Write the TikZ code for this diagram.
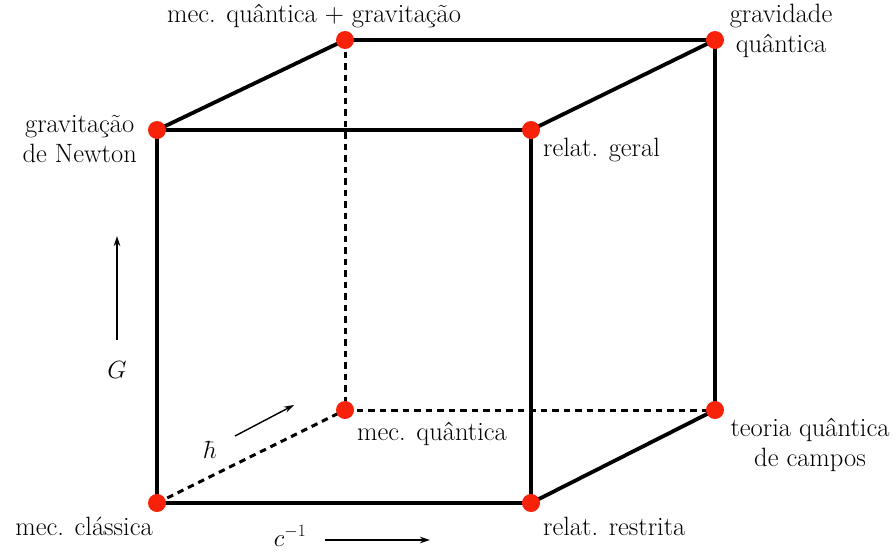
\documentclass[tikz,border=0pt]{standalone}
\usepackage{fontspec}
\usetikzlibrary{arrows.meta}
\begin{document}
\begin{tikzpicture}[x=1pt,y=-1pt,
  edge/.style={line width=3.8pt},
  hidden/.style={line width=3pt,dash pattern=on 6.5pt off 5pt},
  vdot/.style={circle,fill=dotred,inner sep=0pt,minimum size=18pt},
  lbl/.style={inner sep=0pt,font=\fontsize{26.5}{29.5}\selectfont,align=center},
  axis/.style={line width=1.4pt,-{Stealth[length=10pt,width=6.5pt]}}]
\definecolor{dotred}{RGB}{248,34,10}
\useasboundingbox (0,0) rectangle (896,552);
% vertices
\coordinate (fbl) at (157,503);
\coordinate (fbr) at (531,503);
\coordinate (ftl) at (157,130);
\coordinate (ftr) at (531,130);
\coordinate (bbl) at (345,410);
\coordinate (bbr) at (715,410);
\coordinate (btl) at (345,40);
\coordinate (btr) at (715,40);
% hidden edges
\draw[hidden] (btl) -- (bbl);
\draw[hidden] (bbl) -- (bbr);
\draw[hidden] (fbl) -- (bbl);
% visible edges
\draw[edge,line join=round] (fbl) -- (fbr) -- (ftr) -- (ftl) -- cycle;
\draw[edge] (ftl) -- (btl) -- (btr) -- (ftr);
\draw[edge] (btr) -- (bbr) -- (fbr);
% dots
\foreach \v in {fbl,fbr,ftl,ftr,bbl,bbr,btl,btr}
  \node[vdot] (d\v) at (\v) {};
% labels
\node[lbl,anchor=base west] (lmqg) at (167,22) {mec. quântica + gravitação};
\node[lbl,anchor=base] (lgq) at (781,52) {gravidade\\quântica};
\node[lbl,anchor=base east] (lgn) at (137,162) {gravitação\\de Newton};
\node[lbl,anchor=base west] (lrg) at (543,156) {relat. geral};
\node[lbl,anchor=base west] (lmq) at (357,440) {mec. quântica};
\node[lbl,anchor=base] (ltqc) at (810,466) {teoria quântica\\de campos};
\node[lbl,anchor=base east] (lmc) at (153,535) {mec. clássica};
\node[lbl,anchor=base west] (lrr) at (543,535) {relat. restrita};
% axis labels and arrows
\node[lbl,anchor=base] (lc) at (290,546) {$c^{-1}$};
\coordinate (ca) at (325,540);
\coordinate (cb) at (430,540);
\draw[axis] (ca) -- (cb);
\node[lbl,anchor=base] (lG) at (117,378) {$G$};
\coordinate (ga) at (117,340);
\coordinate (gb) at (117,236);
\draw[axis] (ga) -- (gb);
\node[lbl,anchor=base] (lh) at (210,458) {$\hbar$};
\coordinate (ha) at (235,436);
\coordinate (hb) at (294,405);
\draw[axis] (ha) -- (hb);
\end{tikzpicture}
\end{document}
